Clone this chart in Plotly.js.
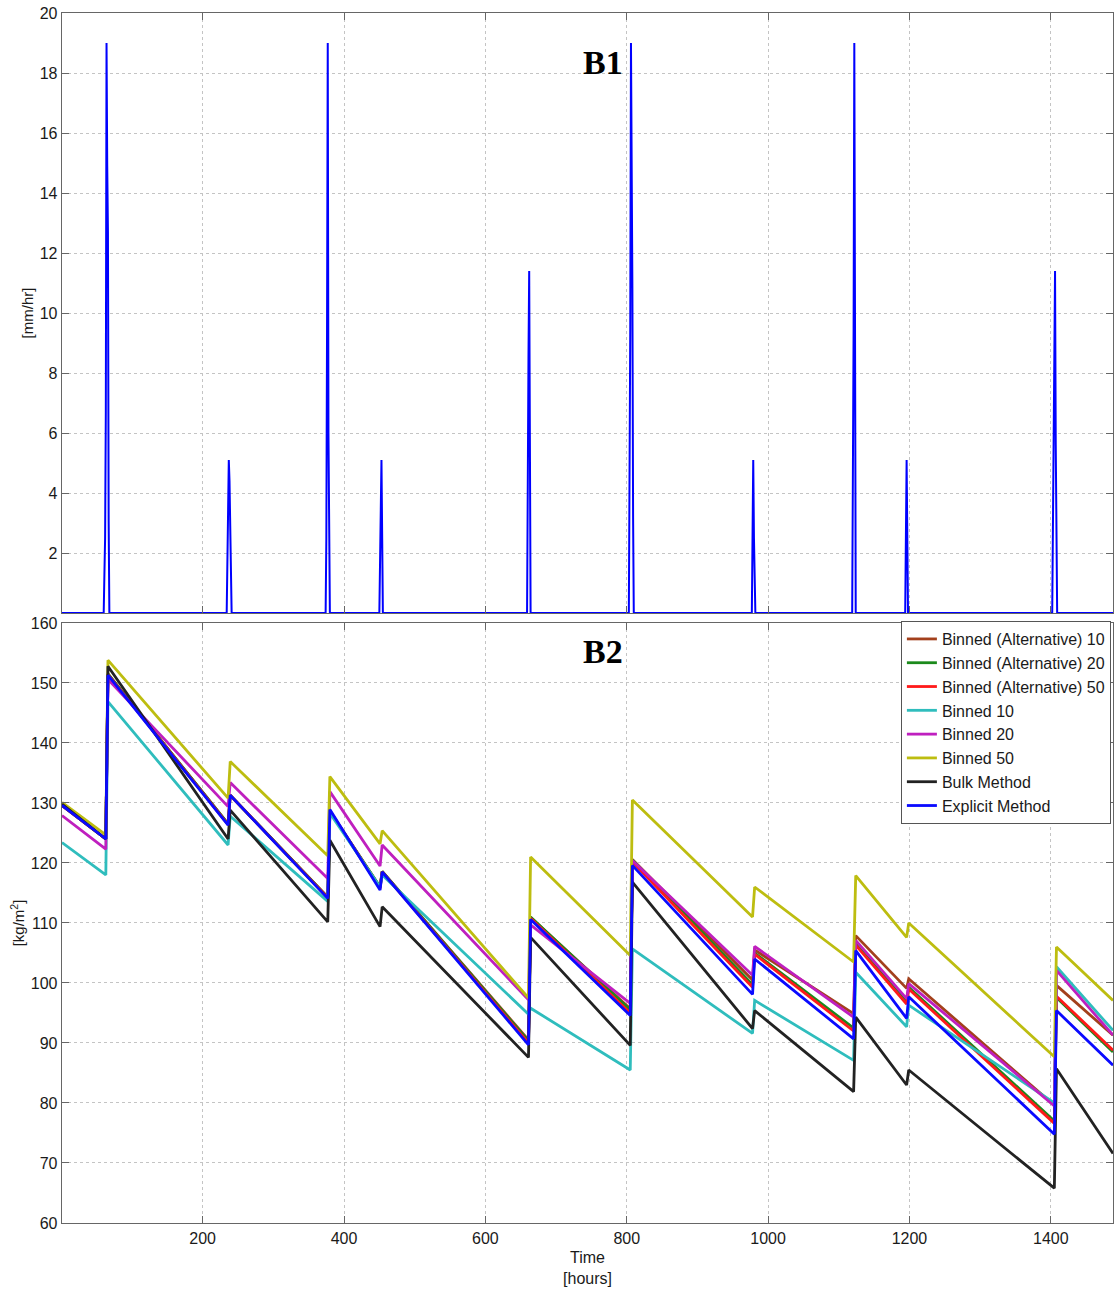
<!DOCTYPE html>
<html>
<head>
<meta charset="utf-8">
<script src="https://cdn.plot.ly/plotly-3.0.1.min.js"></script>
<style>
  html, body { margin: 0; padding: 0; background: #ffffff; }
  #chart { width: 1115px; height: 1292px; }
</style>
</head>
<body>
<div id="chart"></div>
<script>
// ---------- Panel B1: rainfall intensity [mm/hr] ----------
const rainHours = [1,
  60, 61, 62, 63, 64, 65, 66, 67, 68,
  234, 235, 236, 237, 238, 239, 240, 241,
  374, 375, 376, 377, 378, 379, 380,
  450, 451, 452, 453, 454, 455,
  659, 660, 661, 662, 663, 664,
  803, 804, 805, 806, 807, 808, 809, 810,
  977, 978, 979, 980, 981, 982,
  1119, 1120, 1121, 1122, 1123, 1124,
  1194, 1195, 1196, 1197, 1198,
  1402, 1403, 1404, 1405, 1406, 1407, 1408, 1409,
  1488];
const rainRates = [0,
  0, 1.3, 2.5, 6.7, 19.0, 14.9, 12.7, 3.1, 0,
  0, 1.3, 2.5, 5.1, 4.4, 3.1, 1.3, 0,
  0, 2.5, 9.5, 19.0, 6.0, 1.3, 0,
  0, 1.3, 2.5, 5.1, 2.5, 0,
  0, 2.8, 8.5, 11.4, 2.8, 0,
  0, 3.2, 9.5, 19.0, 15.8, 10.8, 3.2, 0,
  0, 2.5, 5.1, 2.5, 0.6, 0,
  0, 4.7, 9.5, 19.0, 4.7, 0,
  0, 2.5, 5.1, 2.5, 0,
  0, 2.8, 5.6, 7.6, 11.4, 5.6, 2.8, 0,
  0];

// ---------- Panel B2: storage [kg/m2] ----------
const hours = [1, 63, 66, 236, 239, 377, 380, 451, 454, 661, 664, 805, 808, 978, 981, 1121, 1124, 1196, 1199, 1405, 1408, 1488];

const binnedAlt10 = [129.6, 124.0, 151.5, 126.5, 131.3, 114.3, 128.6, 116.0, 118.6, 90.5, 110.9, 95.7, 120.6, 100.5, 105.5, 94.9, 107.9, 99.1, 100.7, 79.6, 99.6, 91.3];
const binnedAlt20 = [129.6, 124.0, 151.5, 126.5, 131.3, 114.3, 128.6, 116.0, 118.6, 90.3, 111.0, 95.5, 120.5, 99.7, 105.0, 92.5, 106.5, 96.9, 99.3, 77.0, 97.6, 88.5];
const binnedAlt50 = [129.6, 124.0, 151.4, 126.4, 131.3, 114.2, 128.7, 115.8, 118.5, 90.0, 110.8, 95.0, 120.2, 99.3, 104.8, 92.0, 106.3, 96.5, 99.0, 76.6, 97.8, 88.8];
const binned10    = [123.4, 118.0, 146.9, 123.0, 127.8, 113.6, 128.3, 116.0, 118.0, 94.8, 95.8, 85.5, 105.7, 91.6, 97.1, 87.1, 101.8, 92.7, 96.3, 80.0, 102.7, 92.1];
const binned20    = [127.9, 122.3, 150.6, 129.4, 133.4, 117.4, 131.9, 119.5, 123.0, 97.2, 109.7, 96.6, 120.4, 101.3, 106.1, 94.3, 107.1, 97.4, 99.9, 79.5, 102.1, 91.3];
const binned50    = [130.1, 124.7, 153.8, 130.8, 136.9, 121.2, 134.4, 123.2, 125.4, 97.5, 121.0, 104.6, 130.5, 111.0, 116.0, 103.5, 117.9, 107.6, 110.0, 87.7, 106.0, 97.1];
const bulkMethod  = [129.8, 124.0, 152.8, 124.0, 128.8, 110.2, 123.8, 109.4, 112.7, 87.6, 107.6, 89.6, 116.8, 92.4, 95.4, 81.9, 94.3, 83.0, 85.5, 65.8, 85.7, 71.6];
const explicitMethod = [129.6, 124.0, 151.3, 126.3, 131.3, 114.1, 128.9, 115.5, 118.5, 89.7, 110.6, 94.6, 119.6, 98.1, 104.0, 90.7, 105.4, 94.1, 97.7, 74.8, 95.4, 86.3];

const seriesNames = ["Binned (Alternative) 10", "Binned (Alternative) 20", "Binned (Alternative) 50",
  "Binned 10", "Binned 20", "Binned 50", "Bulk Method", "Explicit Method"];
const seriesValues = [binnedAlt10, binnedAlt20, binnedAlt50, binned10, binned20, binned50, bulkMethod, explicitMethod];
const seriesColors = ["#a3401c", "#1b8a1b", "#ff1a1a", "#2fbdbd", "#bf1fbf", "#bdbd10", "#222222", "#0a0aff"];

const xTicks = [200, 400, 600, 800, 1000, 1200, 1400];
const yTicksTop = [2, 4, 6, 8, 10, 12, 14, 16, 18, 20];
const yTicksBottom = [60, 70, 80, 90, 100, 110, 120, 130, 140, 150, 160];

const FONT = "Liberation Sans, Arial, Helvetica, sans-serif";
const axisColor = "#666666";
const gridColor = "#c4c4c4";

const traces = [{
  x: rainHours, y: rainRates, type: "scatter", mode: "lines",
  line: { color: "#0000ff", width: 2 }, xaxis: "x", yaxis: "y", showlegend: false
}];
seriesNames.forEach((name, i) => {
  traces.push({
    x: hours, y: seriesValues[i], type: "scatter", mode: "lines", name: name,
    line: { color: seriesColors[i], width: 2.8 }, xaxis: "x2", yaxis: "y2"
  });
});

const commonX = {
  range: [1, 1488], tickvals: xTicks, ticks: "inside", ticklen: 7, tickcolor: axisColor,
  showline: true, linecolor: axisColor, linewidth: 1.3, mirror: "ticks",
  showgrid: true, gridcolor: gridColor, griddash: "dot", gridwidth: 1, zeroline: false,
  tickfont: { family: FONT, size: 16, color: "#1a1a1a" }
};
const commonY = {
  ticks: "inside", ticklen: 7, tickcolor: axisColor,
  showline: true, linecolor: axisColor, linewidth: 1.3, mirror: "ticks",
  showgrid: true, gridcolor: gridColor, griddash: "dot", gridwidth: 1, zeroline: false,
  tickfont: { family: FONT, size: 16, color: "#1a1a1a" }
};

const layout = {
  width: 1115, height: 1292,
  margin: { l: 62, r: 2, t: 13, b: 69 },
  paper_bgcolor: "#ffffff", plot_bgcolor: "#ffffff",
  font: { family: FONT, size: 16, color: "#1a1a1a" },
  xaxis: Object.assign({}, commonX, { anchor: "y", showticklabels: false }),
  yaxis: Object.assign({}, commonY, {
    domain: [0.50413, 1], range: [0, 20], tickvals: yTicksTop,
    title: { text: "[mm/hr]", font: { family: FONT, size: 15, color: "#1a1a1a" }, standoff: 2 }
  }),
  xaxis2: Object.assign({}, commonX, {
    anchor: "y2",
    title: { text: "Time<br>[hours]", font: { family: FONT, size: 16, color: "#1a1a1a" }, standoff: 6 }
  }),
  yaxis2: Object.assign({}, commonY, {
    domain: [0, 0.49587], range: [60, 160], tickvals: yTicksBottom,
    title: { text: "[kg/m<sup>2</sup>]", font: { family: FONT, size: 15, color: "#1a1a1a" }, standoff: 2 }
  }),
  showlegend: true,
  legend: {
    x: 0.998, xanchor: "right", y: 0.4975, yanchor: "top",
    bgcolor: "#ffffff", bordercolor: "#555555", borderwidth: 1,
    font: { family: FONT, size: 16, color: "#1a1a1a" },
    itemwidth: 30, tracegroupgap: 0
  },
  annotations: [
    { text: "<b>B1</b>", xref: "paper", yref: "paper", x: 0.515, y: 0.976, showarrow: false,
      font: { family: "Liberation Serif, Times New Roman, serif", size: 34, color: "#000000" } },
    { text: "<b>B2</b>", xref: "paper", yref: "paper", x: 0.515, y: 0.472, showarrow: false,
      font: { family: "Liberation Serif, Times New Roman, serif", size: 34, color: "#000000" } }
  ]
};

Plotly.newPlot("chart", traces, layout, { staticPlot: true, displayModeBar: false });
</script>
</body>
</html>
